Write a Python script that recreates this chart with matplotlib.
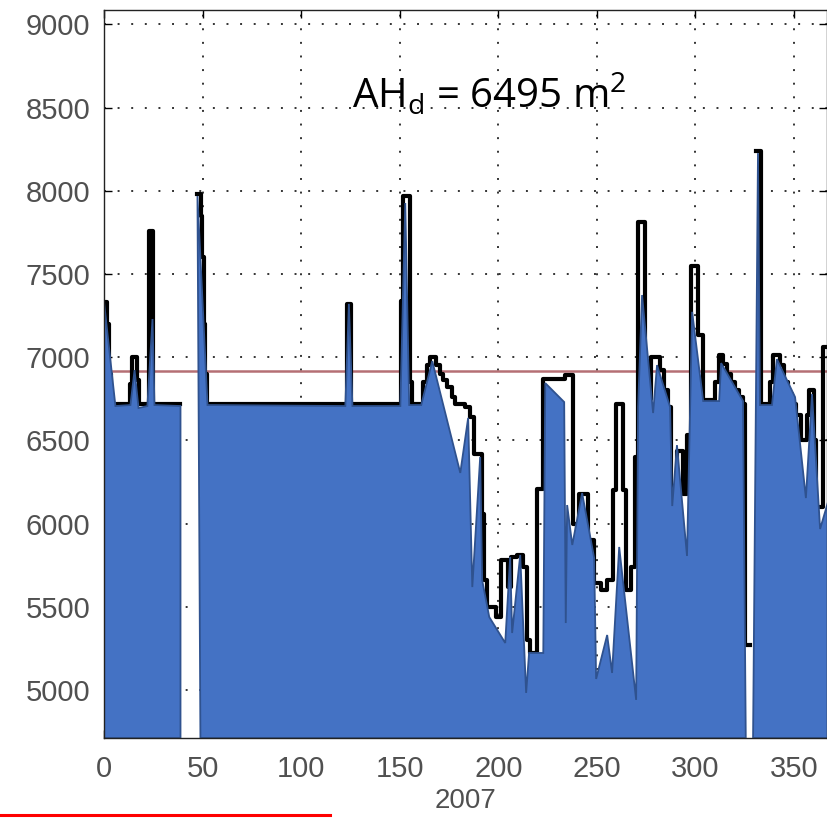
import numpy as np
import matplotlib
matplotlib.use('Agg')
import matplotlib.pyplot as plt
from matplotlib.lines import Line2D

plt.rcParams['mathtext.fontset'] = 'custom'
plt.rcParams['mathtext.rm'] = 'Open Sans'

# 数据：原始日序列（黑线）
black_days = [0, 1.5, 2.5, 3.5, 13, 14, 16.5, 18, 23, 25, 38.8,
              47.3, 49, 49.8, 50.5, 51.3, 52, 123.5, 125.5, 150.5, 151.8, 155.3, 156,
              162, 164, 165.5, 168.5, 170.5, 172, 174, 176.5, 178, 183, 185.7, 187.5,
              191.7, 192.5, 194.5, 199, 201.5, 205, 206.5, 209.5, 212.6, 214.5, 216,
              219.7, 222.8, 234, 238, 240, 241, 245.5, 248.5, 252, 255, 258, 259.5,
              263, 265, 267.5, 269.5, 270.9, 274.5, 277.5, 282, 284, 286, 287.5,
              290.6, 293.5, 295.5, 297.5, 301.5, 304, 310, 312, 314, 316, 318, 320,
              322, 324.3, 325, 327.7, 330.5, 333, 338, 339.5, 343, 345, 347, 349,
              351, 353.5, 356.5, 357.5, 360, 361, 364.5, 366.7]
black_vals = [7330, 7200, 6900, 6720, 6840, 7000, 6860, 6720, 7760, 6720, np.nan,
              7980, 7850, 7600, 7200, 6900, 6720, 7320, 6720, 7340, 7970, 6850, 6720,
              6850, 6950, 7000, 6950, 6900, 6860, 6820, 6760, 6720, 6700, 6640, 6420,
              6060, 5660, 5500, 5440, 5780, 5620, 5800, 5810, 5740, 5300, 5220,
              6210, 6870, 6890, 6000, 5950, 6180, 5900, 5640, 5600, 5660, 6200, 6720,
              6200, 5600, 5740, 6400, 7810, 6750, 7000, 6920, 6800, 6700, 6150,
              6435, 6180, 6530, 7545, 7130, 6740, 6850, 7010, 6960, 6900, 6850, 6800,
              6760, 6720, 5270, np.nan, 8240, 6720, 6850, 7010, 6950, 6850, 6780, 6720,
              6650, 6500, 6650, 6800, 6500, 6100, 7060, 7060]

# 蓝色多边形（近似包络），每块：顶部轮廓 + 底边起止日
blue1_days = [0.0, 5.8, 13.4, 15.5, 17.5, 22.0, 24.6, 25.6, 38.8]
blue1_vals = [7332, 6706, 6712, 6922, 6694, 6706, 7229, 6712, 6706]
blue1_foot = (0.0, 38.8)

blue2_days = [47.4, 52.5, 122.4, 124.2, 126.0, 150.3, 152.8, 154.8, 160.9, 166.5,
              180.7, 184.7, 186.8, 190.8, 191.8, 195.4, 203.5, 206.0, 207.0, 211.1,
              214.1, 215.6, 222.8, 223.8, 233.4, 234.2, 234.9, 237.5, 242.5, 248.6,
              249.6, 255.2, 257.7, 261.3, 269.9, 270.9, 272.9, 278.5, 280.5, 287.1,
              288.2, 290.6, 295.7, 298.3, 303.9, 312.0, 313.0, 324.1]
blue2_vals = [7968, 6712, 6706, 7320, 6706, 6706, 7926, 6712, 6712, 6976,
              6304, 6635, 5618, 6400, 5660, 5438, 5282, 5799, 5342, 5811,
              4982, 5222, 5222, 6844, 6730, 5402, 6111, 5871, 6183, 5793,
              5066, 5330, 5102, 5859, 4940, 6700, 7373, 6664, 6952, 6700,
              6105, 6471, 5805, 7272, 6736, 6736, 6964, 6736]
blue2_foot = (48.9, 325.5)

blue3_days = [331.7, 332.7, 338.8, 341.3, 350.5, 356.0, 359.1, 363.2, 367.2]
blue3_vals = [8226, 6712, 6712, 6988, 6760, 6153, 6778, 5967, 6129]
blue3_foot = (329.2, 367.2)

threshold = 6915
x_ticks = [0, 50, 100, 150, 200, 250, 300, 350]
y_ticks = [5000, 5500, 6000, 6500, 7000, 7500, 8000, 8500, 9000]

fig = plt.figure(figsize=(8.28, 8.19), dpi=100)
ax = fig.add_axes([104 / 828, 81 / 819, 723 / 828, 728 / 819])
ax.set_xlim(0, 366.7)
ax.set_ylim(4711, 9086)
ymin = ax.get_ylim()[0]

# 阈值线
ax.axhline(threshold, color='#a8565c', linewidth=1.8, alpha=0.85, zorder=2)

# 原始数据（黑色阶梯线）
ax.plot(black_days, black_vals, color='black', linewidth=3.0,
        drawstyle='steps-post', zorder=3)

# 蓝色填充块
for xs, ys, foot in [(blue1_days, blue1_vals, blue1_foot),
                     (blue2_days, blue2_vals, blue2_foot),
                     (blue3_days, blue3_vals, blue3_foot)]:
    px = [foot[0]] + list(xs) + [foot[1]]
    py = [ymin] + list(ys) + [ymin]
    ax.fill(px, py, facecolor='#4472C4', edgecolor='#2F528F',
            linewidth=1.3, zorder=4)

ax.set_xticks(x_ticks)
ax.set_yticks(y_ticks)
ax.grid(True, linestyle=(0, (1, 6)), color='#333333', linewidth=1.4)
ax.set_axisbelow(True)
ax.tick_params(direction='in', top=True, right=True, length=6, width=1,
               labelsize=21, labelcolor='#505050')
ax.tick_params(axis='y', pad=10)
ax.tick_params(axis='x', pad=12)
for lab in ax.get_xticklabels() + ax.get_yticklabels():
    lab.set_family('Liberation Sans')
for sp in ax.spines.values():
    sp.set_linewidth(1.0)
    sp.set_color('#222222')
    sp.set_zorder(5)

ax.set_xlabel('2007', fontsize=20, color='#505050', family='Liberation Sans',
              labelpad=4)

ax.text(126, 8497, r'AH$_{\mathregular{d}}$ = 6495 m$^{\mathregular{2}}$',
        fontsize=29, family='Open Sans', color='black', ha='left', va='baseline',
        zorder=6)

# 底部红线
fig.add_artist(Line2D([0, 330 / 828], [1 - 815 / 819] * 2, color='red',
                      linewidth=2.2))

plt.savefig('out.png', dpi=100)
plt.close()
